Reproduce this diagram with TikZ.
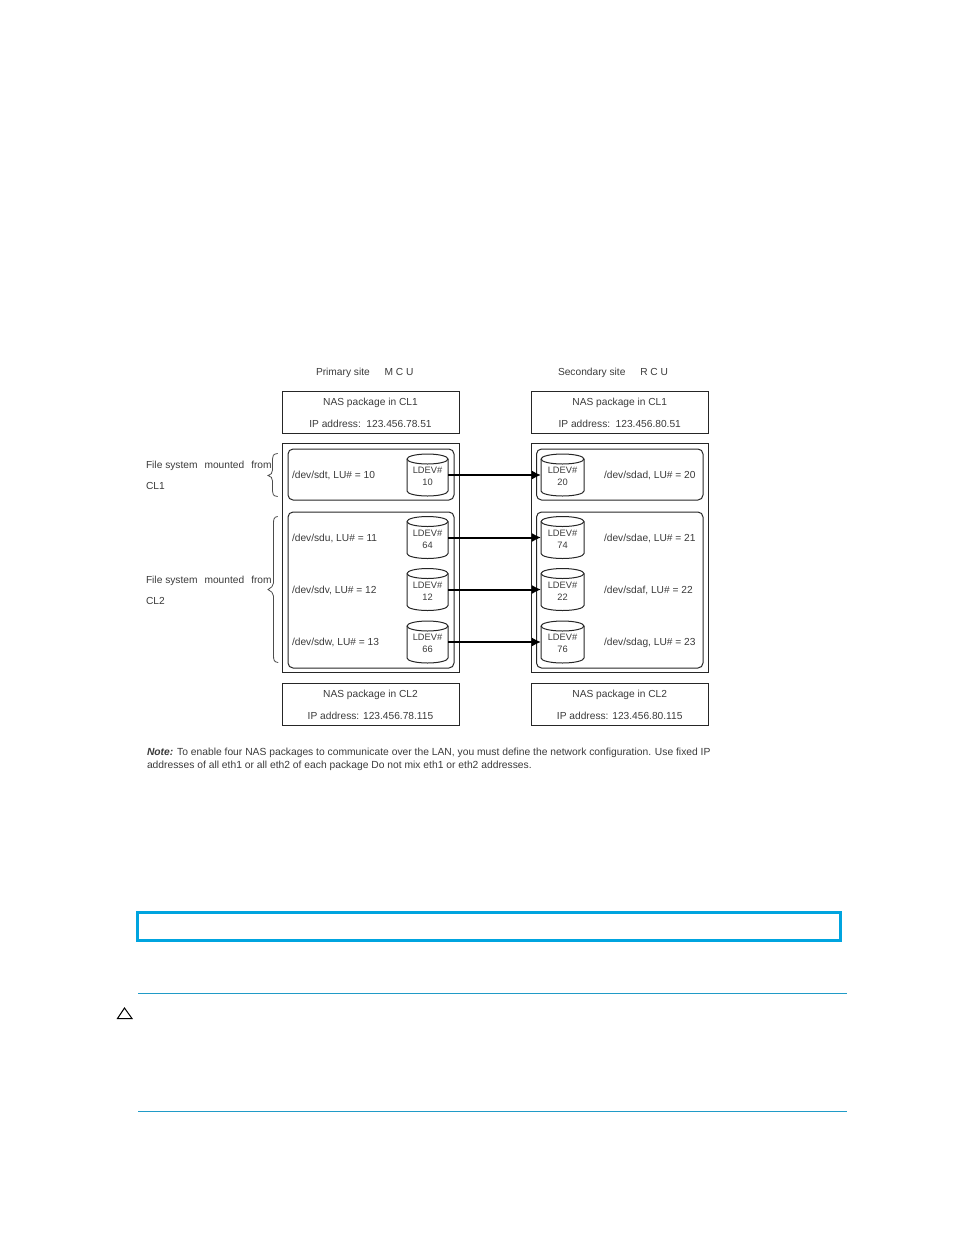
\documentclass[tikz,border=0pt]{standalone}
\usepackage{fontspec}
\setmainfont{Liberation Sans}
\usetikzlibrary{arrows.meta}
\definecolor{hpblue}{HTML}{00A4DF}
\definecolor{txt}{HTML}{3A3A3A}
\newcommand{\ldev}[5]{%
  \node[ldevbox,minimum width=#4] (#1) at (#2,#3) {};
  \draw[cyl] ([yshift=-5]#1.north west) arc[start angle=180,end angle=360,x radius=#4/2,y radius=5]
     -- ([yshift=5]#1.south east) arc[start angle=0,end angle=180,x radius=#4/2,y radius=5] -- cycle;
  \draw[cyl] ([yshift=-5]#1.north west) arc[start angle=180,end angle=0,x radius=#4/2,y radius=5];
  \node[ldevtext] (#1t) at ([yshift=-1.5]#1.center) {LDEV\#\\#5};
}
\tikzset{
  x=1pt,y=-1pt,
  box/.style={draw=black!85,line width=1pt,inner sep=0pt,outer sep=0pt},
  inner/.style={draw=black!85,line width=1pt,rounded corners=5,inner sep=0pt,outer sep=0pt},
  ldevbox/.style={minimum height=42,inner sep=0pt,outer sep=0pt},
  ldevtext/.style={inner sep=0pt,outer sep=0pt,align=center,font=\fontsize{9.3}{12}\selectfont,text=txt},
  cyl/.style={draw=black!85,line width=1pt},
  lab/.style={font=\fontsize{10.2}{12}\selectfont,text=txt,inner sep=0pt,outer sep=0pt},
  note/.style={font=\fontsize{10.3}{12}\selectfont,text=txt,inner sep=0pt,outer sep=0pt},
  link/.style={draw=black,line width=2pt,-{Latex[length=9pt,width=9pt]}},
  brc/.style={draw=black!70,line width=0.8pt,line cap=round},
  rule/.style={draw=#1,line width=0.8pt}
}
\begin{document}
\begin{tikzpicture}
\useasboundingbox (0,0) rectangle (954,1235);
% headings
\node[lab,anchor=west] (h1) at (316,372.5) {Primary site\hspace{12pt} M C U};
\node[lab,anchor=west] (h2) at (558,372.5) {Secondary site\hspace{12pt} R C U};
% NAS boxes
\node[box,minimum width=177,minimum height=42] (nas1) at (370.5,412) {};
\node[box,minimum width=177,minimum height=42] (nas2) at (619.75,412) {};
\node[box,minimum width=177,minimum height=42] (nas3) at (370.5,704) {};
\node[box,minimum width=177,minimum height=42] (nas4) at (619.75,704) {};
\node[lab] (t1a) at (370.5,402.5) {NAS package in CL1};
\node[lab] (t1b) at (370.5,424) {IP address:\, 123.456.78.51};
\node[lab] (t2a) at (619.75,402.5) {NAS package in CL1};
\node[lab] (t2b) at (619.75,424) {IP address:\, 123.456.80.51};
\node[lab] (t3a) at (370.5,694.5) {NAS package in CL2};
\node[lab] (t3b) at (370.5,716) {IP address: 123.456.78.115};
\node[lab] (t4a) at (619.75,694.5) {NAS package in CL2};
\node[lab] (t4b) at (619.75,716) {IP address: 123.456.80.115};
% outer frames
\node[box,minimum width=177,minimum height=228.5] (m1) at (370.5,557.75) {};
\node[box,minimum width=177,minimum height=228.5] (m2) at (619.75,557.75) {};
% inner rounded
\node[inner,minimum width=166,minimum height=51] (i1) at (371,474.5) {};
\node[inner,minimum width=166,minimum height=156] (i2) at (371,590) {};
\node[inner,minimum width=166.5,minimum height=51] (i3) at (619.75,474.5) {};
\node[inner,minimum width=166.5,minimum height=156] (i4) at (619.75,590) {};
% cylinders
\ldev{a1}{427.5}{475}{41}{10}
\ldev{a2}{427.5}{537.5}{41}{64}
\ldev{a3}{427.5}{589.5}{41}{12}
\ldev{a4}{427.5}{642}{41}{66}
\ldev{b1}{562.5}{475}{43}{20}
\ldev{b2}{562.5}{537.5}{43}{74}
\ldev{b3}{562.5}{589.5}{43}{22}
\ldev{b4}{562.5}{642}{43}{76}
% arrows
\draw[link] (a1.east) -- (b1.west);
\draw[link] (a2.east) -- (b2.west);
\draw[link] (a3.east) -- (b3.west);
\draw[link] (a4.east) -- (b4.west);
% device labels
\node[lab,anchor=west] (d1) at (292,475.5) {/dev/sdt, LU\# = 10};
\node[lab,anchor=west] (d2) at (292,538) {/dev/sdu, LU\# = 11};
\node[lab,anchor=west] (d3) at (292,590.5) {/dev/sdv, LU\# = 12};
\node[lab,anchor=west] (d4) at (292,642.5) {/dev/sdw, LU\# = 13};
\node[lab,anchor=west] (e1) at (604,475.5) {/dev/sdad, LU\# = 20};
\node[lab,anchor=west] (e2) at (604,538) {/dev/sdae, LU\# = 21};
\node[lab,anchor=west] (e3) at (604,590.5) {/dev/sdaf, LU\# = 22};
\node[lab,anchor=west] (e4) at (604,642.5) {/dev/sdag, LU\# = 23};
% side labels
\node[lab,anchor=west] (s1) at (146,465.5) {File system\hspace{7pt}mounted\hspace{7pt}from};
\node[lab,anchor=west] (s2) at (146,485.5) {CL1};
\node[lab,anchor=west] (s3) at (146,580.5) {File system\hspace{7pt}mounted\hspace{7pt}from};
\node[lab,anchor=west] (s4) at (146,600.5) {CL2};
% braces
\draw[brc] (277.5,453.5) .. controls (273,454) and (272.5,456) .. (272.5,459) -- (272.5,470)
  .. controls (272.5,473) and (271,475) .. (268,475.5)
  .. controls (271,476) and (272.5,478) .. (272.5,481) -- (272.5,491)
  .. controls (272.5,494) and (273,496) .. (277.5,496.5);
\draw[brc] (277.5,516.5) .. controls (274,517) and (273.5,519) .. (273.5,524) -- (273.5,583)
  .. controls (273.5,586) and (271,588) .. (268,589.5)
  .. controls (271,591) and (273.5,593) .. (273.5,596) -- (273.5,655)
  .. controls (273.5,660) and (274,662) .. (278,662.5);
% note
\node[note,anchor=west] (n1) at (147,752.5) {\textbf{\textit{Note:}} To enable four NAS packages to communicate over the LAN, you must define the network configuration. Use fixed IP};
\node[note,anchor=west] (n2) at (147,765.5) {addresses of all eth1 or all eth2 of each package Do not mix eth1 or eth2 addresses.};
% page elements
\draw[draw=hpblue,line width=3.2pt] (137.5,912.5) rectangle (840.5,940.5);
\draw[rule=hpblue!75!gray] (138,993.5) -- (847,993.5);
\draw[rule=hpblue!75!gray] (138,1111.5) -- (847,1111.5);
\draw[line width=1pt,line join=miter] (124.5,1008) -- (132,1018.5) -- (117.5,1018.5) -- cycle;
\end{tikzpicture}
\end{document}
